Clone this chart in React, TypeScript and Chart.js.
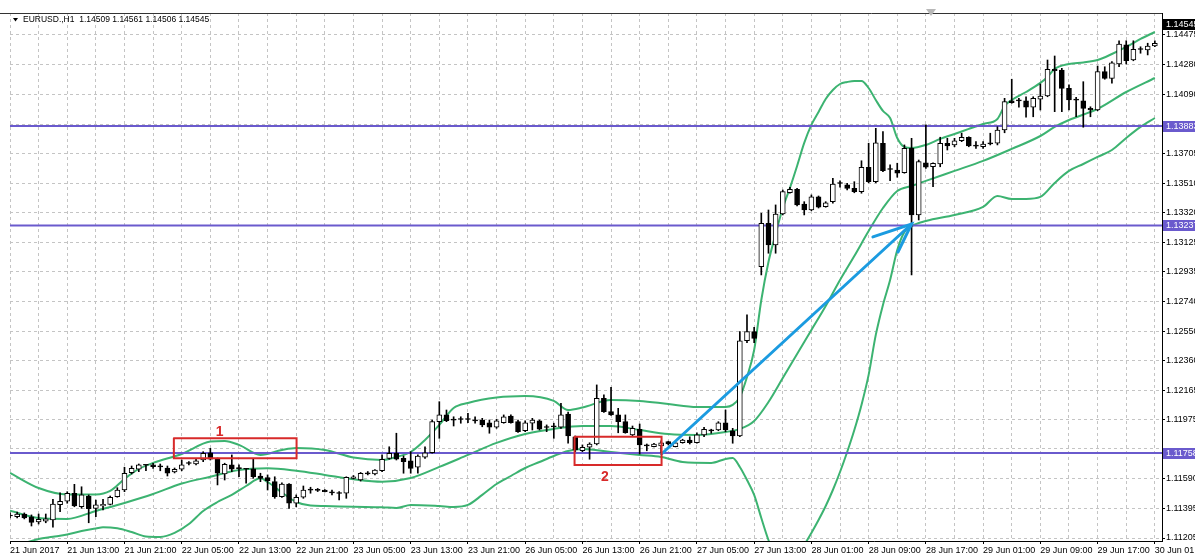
import React, { useEffect, useRef } from 'react';
import { Chart, registerables } from 'chart.js';

Chart.register(...registerables);

// ---------- data ----------
const TIME_LABELS = [
  '21 Jun 2017', '21 Jun 13:00', '21 Jun 21:00', '22 Jun 05:00', '22 Jun 13:00', '22 Jun 21:00',
  '23 Jun 05:00', '23 Jun 13:00', '23 Jun 21:00', '26 Jun 05:00', '26 Jun 13:00', '26 Jun 21:00',
  '27 Jun 05:00', '27 Jun 13:00', '28 Jun 01:00', '28 Jun 09:00', '28 Jun 17:00', '29 Jun 01:00',
  '29 Jun 09:00', '29 Jun 17:00', '30 Jun 01:00',
];
const BARS_PER_LABEL = 8;
const BARS_PER_GRID = 4;

const OPEN = [
  1.11348, 1.11343, 1.11361, 1.11343, 1.11309, 1.11314, 1.11322, 1.11421, 1.11444, 1.11496,
  1.11408, 1.11478, 1.11398, 1.11413, 1.11424, 1.11473, 1.11517, 1.11629, 1.11652, 1.11678,
  1.11681, 1.11670, 1.11660, 1.11634, 1.11652, 1.11689, 1.11686, 1.11712, 1.11759, 1.11723,
  1.11621, 1.11680, 1.11660, 1.11655, 1.11654, 1.11608, 1.11597, 1.11571, 1.11473, 1.11556,
  1.11431, 1.11470, 1.11518, 1.11517, 1.11517, 1.11501, 1.11496, 1.11496, 1.11593, 1.11582,
  1.11629, 1.11621, 1.11642, 1.11723, 1.11756, 1.11723, 1.11707, 1.11665, 1.11730, 1.11759,
  1.11961, 1.12005, 1.11973, 1.11977, 1.11975, 1.11969, 1.11972, 1.11954, 1.11925, 1.11954,
  1.11998, 1.11961, 1.11902, 1.11951, 1.11967, 1.11925, 1.11930, 1.11925, 1.12011, 1.11863,
  1.11772, 1.11795, 1.11816, 1.12113, 1.12026, 1.12005, 1.11961, 1.11875, 1.11912, 1.11806,
  1.11798, 1.11803, 1.11831, 1.11798, 1.11824, 1.11842, 1.11824, 1.11875, 1.11904, 1.11907,
  1.11954, 1.11902, 1.11868, 1.12487, 1.12546, 1.12968, 1.13251, 1.13110, 1.13311, 1.13449,
  1.13472, 1.13376, 1.13337, 1.13423, 1.13358, 1.13391, 1.13511, 1.13500, 1.13478, 1.13456,
  1.13615, 1.13521, 1.13771, 1.13604, 1.13597, 1.13579, 1.13738, 1.13305, 1.13644, 1.13618,
  1.13636, 1.13771, 1.13760, 1.13787, 1.13810, 1.13754, 1.13748, 1.13774, 1.13771, 1.13857,
  1.14047, 1.14049, 1.14047, 1.14005, 1.14057, 1.14078, 1.14252, 1.14247, 1.14128, 1.14053,
  1.14047, 1.13998, 1.13987, 1.14236, 1.14193, 1.14286, 1.14410, 1.14312, 1.14382, 1.14377,
  1.14403,
];
const HIGH = [
  1.11368, 1.11374, 1.11368, 1.11355, 1.11361, 1.11361, 1.11457, 1.11499, 1.11506, 1.11554,
  1.11538, 1.11485, 1.11452, 1.11457, 1.11478, 1.11532, 1.11665, 1.11673, 1.11686, 1.11683,
  1.11691, 1.11686, 1.11673, 1.11660, 1.11712, 1.11701, 1.11717, 1.11766, 1.11788, 1.11725,
  1.11691, 1.11745, 1.11680, 1.11658, 1.11723, 1.11626, 1.11615, 1.11603, 1.11563, 1.11559,
  1.11485, 1.11543, 1.11535, 1.11527, 1.11520, 1.11517, 1.11506, 1.11603, 1.11611, 1.11631,
  1.11637, 1.11650, 1.11745, 1.11798, 1.11886, 1.11738, 1.11766, 1.11745, 1.11798, 1.11972,
  1.12091, 1.12037, 1.11993, 1.11993, 1.12016, 1.11993, 1.11983, 1.11972, 1.11977, 1.12005,
  1.12005, 1.11972, 1.11967, 1.11983, 1.11972, 1.11940, 1.11951, 1.12081, 1.12024, 1.11868,
  1.11810, 1.11824, 1.12200, 1.12135, 1.12185, 1.12048, 1.12005, 1.11933, 1.11946, 1.11816,
  1.11821, 1.11837, 1.11834, 1.11829, 1.11847, 1.11863, 1.11889, 1.11925, 1.11912, 1.11961,
  1.12037, 1.11918, 1.12546, 1.12655, 1.12575, 1.13316, 1.13337, 1.13370, 1.13467, 1.13485,
  1.13478, 1.13391, 1.13435, 1.13428, 1.13391, 1.13543, 1.13527, 1.13511, 1.13521, 1.13657,
  1.13771, 1.13868, 1.13846, 1.13630, 1.13641, 1.13760, 1.13803, 1.13662, 1.13890, 1.13644,
  1.13810, 1.13803, 1.13803, 1.13836, 1.13813, 1.13781, 1.13781, 1.13836, 1.13878, 1.14063,
  1.14187, 1.14063, 1.14073, 1.14073, 1.14156, 1.14312, 1.14338, 1.14258, 1.14150, 1.14070,
  1.14171, 1.14008, 1.14273, 1.14268, 1.14301, 1.14437, 1.14437, 1.14437, 1.14398, 1.14421,
  1.14437,
];
const LOW = [
  1.11335, 1.11335, 1.11329, 1.11283, 1.11296, 1.11304, 1.11275, 1.11376, 1.11431, 1.11408,
  1.11398, 1.11304, 1.11343, 1.11387, 1.11420, 1.11470, 1.11506, 1.11621, 1.11636, 1.11642,
  1.11658, 1.11642, 1.11608, 1.11628, 1.11642, 1.11680, 1.11680, 1.11701, 1.11712, 1.11550,
  1.11582, 1.11636, 1.11603, 1.11561, 1.11593, 1.11571, 1.11517, 1.11463, 1.11468, 1.11398,
  1.11408, 1.11463, 1.11496, 1.11507, 1.11504, 1.11485, 1.11452, 1.11463, 1.11589, 1.11575,
  1.11615, 1.11615, 1.11636, 1.11717, 1.11712, 1.11626, 1.11626, 1.11626, 1.11723, 1.11756,
  1.11853, 1.11961, 1.11933, 1.11951, 1.11954, 1.11951, 1.11928, 1.11886, 1.11918, 1.11951,
  1.11951, 1.11891, 1.11896, 1.11907, 1.11907, 1.11896, 1.11853, 1.11918, 1.11821, 1.11766,
  1.11766, 1.11717, 1.11810, 1.12021, 1.12001, 1.11889, 1.11886, 1.11868, 1.11751, 1.11772,
  1.11797, 1.11751, 1.11810, 1.11797, 1.11821, 1.11816, 1.11821, 1.11863, 1.11886, 1.11902,
  1.11896, 1.11821, 1.11863, 1.12474, 1.12474, 1.12915, 1.13056, 1.13056, 1.13305, 1.13446,
  1.13363, 1.13305, 1.13332, 1.13350, 1.13355, 1.13381, 1.13485, 1.13467, 1.13449, 1.13446,
  1.13514, 1.13514, 1.13586, 1.13527, 1.13550, 1.13576, 1.12915, 1.13272, 1.13608, 1.13488,
  1.13618, 1.13727, 1.13748, 1.13781, 1.13748, 1.13738, 1.13738, 1.13760, 1.13760, 1.13839,
  1.14031, 1.14005, 1.13940, 1.13943, 1.13987, 1.14073, 1.13976, 1.13976, 1.13987, 1.13943,
  1.13875, 1.13943, 1.13982, 1.14187, 1.14161, 1.14268, 1.14286, 1.14307, 1.14356, 1.14345,
  1.14398,
];
const CLOSE = [
  1.11351, 1.11361, 1.11335, 1.11307, 1.11327, 1.11330, 1.11426, 1.11444, 1.11496, 1.11413,
  1.11485, 1.11395, 1.11421, 1.11424, 1.11470, 1.11517, 1.11626, 1.11658, 1.11680, 1.11681,
  1.11668, 1.11667, 1.11626, 1.11652, 1.11680, 1.11692, 1.11707, 1.11756, 1.11717, 1.11626,
  1.11684, 1.11652, 1.11656, 1.11652, 1.11603, 1.11593, 1.11577, 1.11473, 1.11556, 1.11431,
  1.11470, 1.11517, 1.11516, 1.11515, 1.11506, 1.11498, 1.11494, 1.11600, 1.11603, 1.11626,
  1.11621, 1.11647, 1.11717, 1.11756, 1.11717, 1.11701, 1.11658, 1.11738, 1.11759, 1.11961,
  1.12005, 1.11967, 1.11971, 1.11975, 1.11977, 1.11966, 1.11940, 1.11925, 1.11967, 1.11993,
  1.11954, 1.11896, 1.11954, 1.11972, 1.11912, 1.11923, 1.11927, 1.12005, 1.11868, 1.11777,
  1.11795, 1.11816, 1.12113, 1.12026, 1.12005, 1.11961, 1.11889, 1.11918, 1.11810, 1.11804,
  1.11816, 1.11824, 1.11816, 1.11824, 1.11842, 1.11824, 1.11875, 1.11912, 1.11901, 1.11954,
  1.11907, 1.11868, 1.12487, 1.12546, 1.12503, 1.13251, 1.13110, 1.13311, 1.13456, 1.13472,
  1.13370, 1.13337, 1.13423, 1.13355, 1.13384, 1.13506, 1.13509, 1.13478, 1.13456, 1.13615,
  1.13521, 1.13774, 1.13592, 1.13600, 1.13576, 1.13738, 1.13305, 1.13651, 1.13615, 1.13641,
  1.13771, 1.13753, 1.13787, 1.13810, 1.13753, 1.13752, 1.13766, 1.13766, 1.13857, 1.14041,
  1.14034, 1.14046, 1.14005, 1.14063, 1.14078, 1.14252, 1.14242, 1.14128, 1.14052, 1.14051,
  1.13998, 1.13987, 1.14236, 1.14193, 1.14294, 1.14416, 1.14307, 1.14382, 1.14380, 1.14403,
  1.14421,
];

// Bollinger bands, read at selected bars: [bar index, price]
const UPPER_BAND: [number, number][] = [
  [0, 1.11628], [4, 1.11530], [8, 1.11488], [12, 1.11488], [14, 1.11511], [16, 1.11589], [18, 1.11654],
  [20, 1.11693], [24, 1.11751], [28, 1.11832], [30, 1.11836], [32, 1.11810], [35, 1.11745], [38, 1.11777],
  [40, 1.11790], [44, 1.11777], [48, 1.11728], [52, 1.11712], [54, 1.11732], [56, 1.11764], [58, 1.11842],
  [60, 1.11940], [62, 1.12050], [64, 1.12083], [68, 1.12118], [72, 1.12128], [76, 1.12096], [78, 1.12037],
  [80, 1.12053], [84, 1.12102], [88, 1.12096], [92, 1.12076], [96, 1.12057], [100, 1.12057], [101, 1.12070],
  [102, 1.12122], [103, 1.12252], [104, 1.12427], [105, 1.12752], [106, 1.12999], [107, 1.13181],
  [108, 1.13350], [109, 1.13480], [110, 1.13623], [111, 1.13773], [112, 1.13890], [113, 1.13974],
  [114, 1.14059], [115, 1.14117], [116, 1.14156], [117, 1.14169], [118, 1.14176], [119, 1.14176],
  [120, 1.14130], [121, 1.14052], [122, 1.13981], [123, 1.13935], [124, 1.13805], [125, 1.13747],
  [126, 1.13740], [128, 1.13760], [130, 1.13799], [132, 1.13831], [134, 1.13864], [136, 1.13896],
  [138, 1.13929], [139, 1.14013], [140, 1.14052], [142, 1.14104], [144, 1.14163], [145, 1.14202],
  [146, 1.14254], [148, 1.14286], [150, 1.14296], [152, 1.14312], [154, 1.14351], [156, 1.14397],
  [158, 1.14449], [160, 1.14494],
];
const MIDDLE_BAND: [number, number][] = [
  [0, 1.11382], [4, 1.11335], [8, 1.11329], [12, 1.11381], [16, 1.11433], [20, 1.11491], [24, 1.11559],
  [28, 1.11603], [32, 1.11647], [36, 1.11658], [40, 1.11642], [44, 1.11615], [48, 1.11587], [52, 1.11571],
  [56, 1.11595], [60, 1.11667], [64, 1.11745], [68, 1.11823], [72, 1.11881], [76, 1.11914], [80, 1.11933],
  [84, 1.11933], [88, 1.11907], [92, 1.11881], [96, 1.11875], [100, 1.11894], [102, 1.11914], [104, 1.11966],
  [106, 1.12089], [108, 1.12245], [110, 1.12401], [112, 1.12557], [114, 1.12713], [116, 1.12882],
  [118, 1.13038], [120, 1.13200], [122, 1.13350], [124, 1.13461], [126, 1.13493], [128, 1.13526],
  [132, 1.13591], [136, 1.13656], [140, 1.13734], [144, 1.13818], [146, 1.13877], [148, 1.13922],
  [152, 1.13994], [156, 1.14104], [160, 1.14195],
];
const LOWER_BAND: [number, number][] = [
  [0, 1.11140], [3, 1.11186], [4, 1.11199], [6, 1.11213], [8, 1.11228], [10, 1.11251], [12, 1.11267],
  [13, 1.11275], [15, 1.11268], [17, 1.11244], [19, 1.11215], [21, 1.11212], [23, 1.11238], [25, 1.11296],
  [27, 1.11381], [29, 1.11439], [31, 1.11485], [33, 1.11543], [35, 1.11593], [36, 1.11569], [38, 1.11501],
  [40, 1.11439], [42, 1.11416], [44, 1.11413], [48, 1.11408], [52, 1.11405], [54, 1.11400], [56, 1.11420],
  [60, 1.11413], [62, 1.11407], [64, 1.11420], [66, 1.11485], [68, 1.11556], [70, 1.11608], [72, 1.11660],
  [74, 1.11699], [76, 1.11738], [78, 1.11771], [80, 1.11784], [84, 1.11764], [88, 1.11745], [91, 1.11732],
  [94, 1.11699], [98, 1.11693], [100, 1.11719], [101, 1.11725], [102, 1.11667], [103, 1.11582],
  [104, 1.11485], [105, 1.11335], [106, 1.11192], [107, 1.11088], [108, 1.11036], [109, 1.11049],
  [110, 1.11095], [111, 1.11160], [112, 1.11238], [113, 1.11322], [114, 1.11413], [115, 1.11517],
  [116, 1.11634], [117, 1.11764], [118, 1.11907], [119, 1.12070], [120, 1.12265], [121, 1.12525],
  [122, 1.12720], [123, 1.12882], [124, 1.13077], [125, 1.13194], [126, 1.13233], [128, 1.13266],
  [132, 1.13305], [136, 1.13357], [138, 1.13428], [140, 1.13409], [142, 1.13409], [144, 1.13422],
  [146, 1.13513], [148, 1.13591], [150, 1.13636], [152, 1.13682], [154, 1.13727], [156, 1.13805],
  [158, 1.13877], [160, 1.13935],
];

const LEVELS = [1.13883, 1.13237, 1.11758];
const CURRENT_PRICE = 1.14545;
const PRICE_TICKS = [
  1.11205, 1.11395, 1.11590, 1.11785, 1.11975, 1.12165, 1.12360, 1.12550, 1.12740, 1.12935,
  1.13125, 1.13320, 1.13510, 1.13705, 1.13895, 1.14090, 1.14280, 1.14475,
];
const HIDDEN_TICKS = [1.11785, 1.13895];
const PRICE_MIN = 1.111855;
const PRICE_MAX = 1.146175;
const HEADER = 'EURUSD.,H1  1.14509 1.14561 1.14506 1.14545';

// hand-drawn annotations in data units: [bar index, price]
const BOX_1: [number, number][] = [[22.9, 1.11853], [40.05, 1.11853], [40.05, 1.11723], [22.9, 1.11723], [22.9, 1.11853]];
const BOX_2: [number, number][] = [[78.9, 1.11863], [91.06, 1.11863], [91.06, 1.11680], [78.9, 1.11680], [78.9, 1.11863]];
const ARROW_SHAFT: [number, number][] = [[91.06, 1.11751], [126.0, 1.13246]];
const ARROW_HEAD: [number, number][] = [[120.6, 1.13162], [126.0, 1.13246], [124.1, 1.13064]];
const BOX_LABELS: { text: string; bar: number; price: number }[] = [
  { text: '1', bar: 29.3, price: 1.11894 },
  { text: '2', bar: 83.15, price: 1.11602 },
];

// ---------- styles ----------
const FONT = '"Liberation Sans", Arial, sans-serif';
const BAND_COLOR = '#3cb371';
const LEVEL_COLOR = '#6a5acd';
const BOX_COLOR = '#d82a2a';
const ARROW_COLOR = '#1b9be0';
const GRID_COLOR = '#c4c4c4';

const pts = (arr: [number, number][]) => arr.map(([x, y]) => ({ x, y }));

const noPad = (s: any) => {
  s.paddingLeft = 0;
  s.paddingRight = 0;
  s.paddingTop = 0;
  s.paddingBottom = 0;
};

const overlayPlugin = {
  id: 'overlay',
  afterDraw(chart: any) {
    const { ctx, chartArea: a, scales } = chart;
    const xs = scales.x;
    const ys = scales.y;
    ctx.save();
    // window frame top
    ctx.strokeStyle = '#333';
    ctx.lineWidth = 1;
    ctx.beginPath();
    ctx.moveTo(0, a.top + 0.5);
    ctx.lineTo(a.right, a.top + 0.5);
    ctx.stroke();
    // chart shift marker
    ctx.fillStyle = '#b8b8b8';
    ctx.beginPath();
    ctx.moveTo(926, 9);
    ctx.lineTo(936, 9);
    ctx.lineTo(931, 16);
    ctx.closePath();
    ctx.fill();
    // header
    ctx.fillStyle = '#000';
    ctx.beginPath();
    ctx.moveTo(a.left + 3, a.top + 5);
    ctx.lineTo(a.left + 8, a.top + 5);
    ctx.lineTo(a.left + 5.5, a.top + 8.5);
    ctx.closePath();
    ctx.fill();
    ctx.font = '8.5px ' + FONT;
    ctx.textAlign = 'left';
    ctx.textBaseline = 'middle';
    ctx.fillText(HEADER, a.left + 13, a.top + 7);
    // price tags
    const tag = (v: number, bg: string) => {
      const py = Math.round(ys.getPixelForValue(v));
      ctx.fillStyle = bg;
      ctx.fillRect(a.right + 1, py - 5, 40, 11);
      ctx.fillStyle = '#fff';
      ctx.font = '9px ' + FONT;
      ctx.textBaseline = 'middle';
      ctx.fillText(v.toFixed(5), a.right + 4, py + 0.5);
    };
    LEVELS.forEach((v) => tag(v, LEVEL_COLOR));
    tag(CURRENT_PRICE, '#000');
    // box labels
    ctx.fillStyle = BOX_COLOR;
    ctx.font = 'bold 14px ' + FONT;
    ctx.textAlign = 'center';
    ctx.textBaseline = 'middle';
    BOX_LABELS.forEach((l) => {
      ctx.fillText(l.text, xs.getPixelForValue(l.bar), ys.getPixelForValue(l.price));
    });
    ctx.restore();
  },
};

export default function App() {
  const ref = useRef<HTMLCanvasElement>(null);

  useEffect(() => {
    const canvas = ref.current;
    if (!canvas) return;
    const idx = OPEN.map((_, i) => i);
    const bodyColors = idx.map((i) => (CLOSE[i] - OPEN[i] > 0.00004 ? '#ffffff' : '#000000'));
    const nBars = OPEN.length;

    const bandDs = (data: [number, number][]) => ({
      type: 'line' as const,
      data: pts(data),
      borderColor: BAND_COLOR,
      borderWidth: 2,
      pointRadius: 0,
      fill: false,
      cubicInterpolationMode: 'monotone' as const,
      clip: 0,
      order: 5,
    });
    const levelDs = LEVELS.map((v) => ({
      type: 'line' as const,
      data: [{ x: 0, y: v }, { x: nBars, y: v }],
      borderColor: LEVEL_COLOR,
      borderWidth: 2,
      pointRadius: 0,
      fill: false,
      clip: 0,
      order: 4,
    }));
    const annoDs = (data: [number, number][], color: string, width: number) => ({
      type: 'line' as const,
      data: pts(data),
      borderColor: color,
      borderWidth: width,
      pointRadius: 0,
      fill: false,
      tension: 0,
      borderCapStyle: 'round' as const,
      borderJoinStyle: 'miter' as const,
      clip: 0,
      order: 0,
    });

    const chart = new Chart(canvas, {
      type: 'bar',
      data: {
        datasets: [
          {
            type: 'bar',
            data: idx.map((i) => ({ x: i, y: [OPEN[i], CLOSE[i]] })) as any,
            backgroundColor: bodyColors,
            borderColor: '#000',
            borderWidth: 1,
            borderSkipped: false,
            barThickness: 5,
            minBarLength: 1,
            grouped: false,
            clip: 0,
            order: 1,
          } as any,
          {
            type: 'bar',
            data: idx.map((i) => ({ x: i, y: [LOW[i], HIGH[i]] })) as any,
            backgroundColor: '#000',
            borderWidth: 0,
            barThickness: 1,
            grouped: false,
            clip: 0,
            order: 2,
          } as any,
          ...levelDs,
          bandDs(UPPER_BAND),
          bandDs(MIDDLE_BAND),
          bandDs(LOWER_BAND),
          annoDs(BOX_1, BOX_COLOR, 2),
          annoDs(BOX_2, BOX_COLOR, 2),
          annoDs(ARROW_SHAFT, ARROW_COLOR, 3),
          annoDs(ARROW_HEAD, ARROW_COLOR, 3),
        ] as any,
      },
      options: {
        animation: false,
        responsive: false,
        devicePixelRatio: 1,
        events: [],
        layout: { padding: { left: 10, top: 13, right: 0, bottom: 0 } },
        plugins: { legend: { display: false }, tooltip: { enabled: false } },
        scales: {
          x: {
            type: 'linear',
            min: 0,
            max: nBars,
            offset: false,
            afterBuildTicks: (s: any) => {
              const t = [];
              for (let v = 0; v < nBars; v += BARS_PER_GRID) t.push({ value: v });
              s.ticks = t;
            },
            afterFit: (s: any) => {
              s.height = 13;
              noPad(s);
            },
            grid: {
              offset: false,
              color: GRID_COLOR,
              lineWidth: 1,
              tickLength: 3,
              tickColor: (c: any) =>
                c.tick && c.tick.value % BARS_PER_LABEL === 0 ? '#000' : 'rgba(0,0,0,0)',
            },
            border: { color: '#000', width: 1, dash: [3, 3] },
            ticks: {
              autoSkip: false,
              maxRotation: 0,
              minRotation: 0,
              align: 'start',
              padding: 1,
              color: '#000',
              font: { family: FONT, size: 9 },
              callback: (v: any) =>
                Number(v) % BARS_PER_LABEL === 0 ? TIME_LABELS[Number(v) / BARS_PER_LABEL] ?? '' : '',
            },
          } as any,
          y: {
            type: 'linear',
            position: 'right',
            min: PRICE_MIN,
            max: PRICE_MAX,
            afterBuildTicks: (s: any) => {
              s.ticks = PRICE_TICKS.map((v) => ({ value: v }));
            },
            afterFit: (s: any) => {
              s.width = 33;
              noPad(s);
            },
            grid: { color: GRID_COLOR, lineWidth: 1, tickLength: 3, tickColor: '#000' },
            border: { color: '#000', width: 1, dash: [3, 3] },
            ticks: {
              padding: 1,
              color: '#000',
              font: { family: FONT, size: 9 },
              callback: (v: any) => (HIDDEN_TICKS.includes(Number(v)) ? '' : Number(v).toFixed(5)),
            },
          } as any,
        },
      },
      plugins: [overlayPlugin],
    });
    return () => chart.destroy();
  }, []);

  return (
    <div style={{ position: 'fixed', left: 0, top: 0, width: 1195, height: 554, background: '#fff' }}>
      <canvas ref={ref} width={1195} height={554} style={{ display: 'block', width: 1195, height: 554 }} />
    </div>
  );
}
